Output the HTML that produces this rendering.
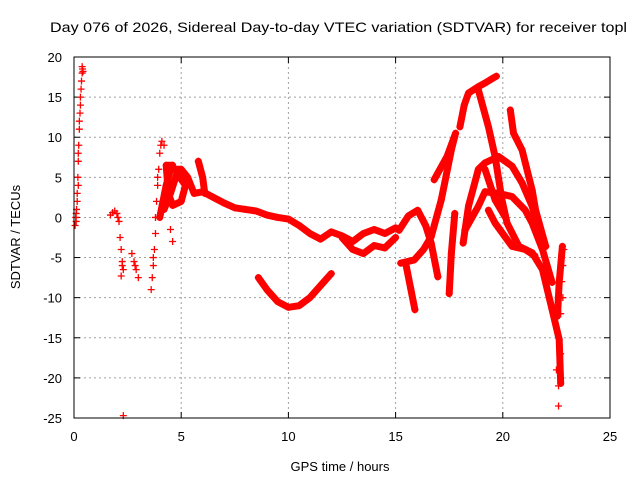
<!DOCTYPE html>
<html><head><meta charset="utf-8"><style>
body{margin:0;background:#fff}
svg text{font-family:"Liberation Sans",sans-serif;font-size:13px;fill:#000}
</style></head><body>
<svg id="chart" width="640" height="480" xmlns="http://www.w3.org/2000/svg">
<rect width="640" height="480" fill="#fff"/>
<text x="50" y="32" textLength="577" lengthAdjust="spacingAndGlyphs" style="font-size:14px">Day 076 of 2026, Sidereal Day-to-day VTEC variation (SDTVAR) for receiver topl</text>
<g id="grid"></g><g id="ticks"></g><g id="data"></g>
<rect x="74" y="57" width="536" height="361" fill="none" stroke="#000" stroke-width="1"/>
<text x="340" y="471" text-anchor="middle">GPS time / hours</text>
<text transform="translate(20,237) rotate(-90)" text-anchor="middle">SDTVAR / TECUs</text>
</svg>
<script>
const xTicks=[0,5,10,15,20,25];
const yTicks=[20,15,10,5,0,-5,-10,-15,-20,-25];
const sparseSpike=[[0.05,-1],[0.08,0],[0.1,0.5],[0.12,1],[0.15,3],[0.18,5],[0.2,7],[0.22,9],[0.25,11],[0.28,13],[0.3,14],[0.33,16],[0.35,17],[0.38,18],[0.4,18.5],[0.1,-0.5],[0.15,2],[0.2,8],[0.25,12],[0.3,15],[0.38,18.8],[0.42,18.2],[0.2,4]];
const sparseDrop=[[1.7,0.3],[1.9,0.8],[2.0,0.5],[2.1,-0.5],[2.15,-2.5],[2.2,-4],[2.25,-5.5],[2.3,-6.5],[2.2,-7.3],[1.8,0.6],[2.05,0],[2.25,-6]];
const sparseLow=[[2.3,-24.7]];
const sparseDip=[[2.7,-4.5],[2.8,-5.5],[2.9,-6.5],[3.0,-7.5],[2.85,-6]];
const sparseRise=[[3.6,-9],[3.65,-7.5],[3.7,-6],[3.75,-4],[3.8,-2],[3.8,0],[3.85,2],[3.9,4],[3.95,6],[4.0,8],[4.1,9.5],[4.2,9],[4.5,-1.5],[4.6,-3],[3.7,-5],[3.9,5],[4.05,9]];
const sparseEnd=[[22.6,-23.5],[22.6,-21],[22.5,-19],[22.7,-17],[22.8,-10],[22.8,-6],[22.85,-4],[22.7,-12],[22.75,-8]];
const bandMain=[[4.0,0],[4.3,4],[4.5,6],[5.0,6],[5.3,5],[5.6,3],[6,3.2],[6.5,2.5],[7,1.8],[7.5,1.2],[8,1],[8.5,0.8],[9,0.3],[9.5,0],[10,-0.2],[10.5,-1],[11,-2],[11.5,-2.7],[12,-1.8],[12.5,-2.3],[13,-3],[13.5,-2],[14,-1.5],[14.5,-2],[15,-1.3]];
const bandLoop=[[4.2,1],[4.5,3],[4.8,5.5],[5.2,4],[5.0,2],[4.6,1.5],[4.4,3],[4.3,6.5],[4.6,6.5]];
const bandSpike=[[5.8,7],[6.0,5],[6.1,3]];
const bandLower=[[12.5,-2.5],[13,-4],[13.5,-4.5],[14,-3.5],[14.5,-3.8],[15,-2.5]];
const bandV=[[8.6,-7.5],[9,-9],[9.5,-10.5],[10,-11.2],[10.5,-11],[11,-10],[11.5,-8.5],[12,-7]];
const bandLoopA=[[15.16,-1.6],[15.6,0.2],[16.03,0.9],[16.4,-1],[16.66,-3.2],[16.97,-7.4]];
const bandLoopB=[[15.24,-5.7],[15.87,-5.3],[16.3,-4],[16.66,-2.4],[17.13,2.2],[17.6,8.4],[17.76,10.1]];
const bandDrop=[[15.5,-6.1],[15.7,-8.8],[15.9,-11.5]];
const bandUp=[[16.8,4.7],[17.4,7.6],[17.8,10.5]];
const bandDown=[[17.76,0.5],[17.6,-4.5],[17.5,-9.5]];
const bandPeak=[[18.0,11.3],[18.2,14],[18.4,15.5],[18.86,16.3],[19.2,16.8],[19.5,17.3],[19.7,17.6]];
const bandFall=[[18.86,15.9],[19.33,11.3],[19.64,7.6],[19.96,2.2],[20.2,-0.7],[20.75,-3.6],[21.37,-4.4],[21.85,-6.5],[22.3,-11.5],[22.63,-15.2],[22.7,-20.7]];
const bandArcA=[[18.15,-3.2],[18.4,1.4],[18.86,6],[19.17,6.8],[19.8,7.6],[20.43,6.4],[20.9,4.3],[21.37,1.4],[21.69,-1.5],[22.0,-3.6]];
const bandArcB=[[18.23,-1.6],[18.86,1.4],[19.17,3.2],[19.8,3],[20.43,2.6],[21.05,0.9],[21.37,-0.7],[21.85,-4],[22.3,-8.1]];
const bandArcC=[[19.33,0.9],[19.64,-0.7],[20.43,-3.6],[21.05,-4],[21.5,-4.8]];
const bandArcD=[[19.17,6],[19.64,2.2],[20.1,0.1]];
const bandRight=[[20.35,13.4],[20.5,10.5],[20.9,8.4],[21.37,3.4],[21.53,0.9],[22.0,-3.6]];
const bandEnd=[[22.78,-3.6],[22.63,-8.1],[22.55,-12.3]];
const sparseSeries=[sparseSpike,sparseDrop,sparseLow,sparseDip,sparseRise,sparseEnd];
const denseSeries=[bandMain,bandLoop,bandSpike,bandLower,bandV,bandLoopA,bandLoopB,bandDrop,bandUp,bandDown,bandPeak,bandFall,bandArcA,bandArcB,bandArcC,bandArcD,bandRight,bandEnd];

const NS='http://www.w3.org/2000/svg';
const X0=74,X1=610,Y0=418,Y1=57;
function xs(h){return X0+(h-0)/(25-0)*(X1-X0);}
function ys(v){return Y0-(v+25)/(20+25)*(Y0-Y1);}
function mk(tag,attrs,parent){const e=document.createElementNS(NS,tag);for(const k in attrs)e.setAttribute(k,attrs[k]);parent.appendChild(e);return e;}
const grid=document.getElementById('grid'),ticks=document.getElementById('ticks'),data=document.getElementById('data');
xTicks.forEach(t=>{const x=xs(t);
 if(t>0&&t<25){const g=mk('line',{x1:x,x2:x,y1:Y1,y2:Y0,stroke:'#a0a0a0','stroke-dasharray':'2,3'},grid);
 
 }
 mk('line',{x1:x,x2:x,y1:Y0,y2:Y0-6,stroke:'#000'},ticks);mk('line',{x1:x,x2:x,y1:Y1,y2:Y1+6,stroke:'#000'},ticks);
 const l=mk('text',{x:x,y:Y0+23,'text-anchor':'middle'},ticks);l.textContent=t;
 
 
});
yTicks.forEach(t=>{const y=ys(t);
 if(t>-25&&t<20){const g=mk('line',{x1:X0,x2:X1,y1:y,y2:y,stroke:'#a0a0a0','stroke-dasharray':'2,3'},grid);
 
 }
 mk('line',{x1:X0,x2:X0+6,y1:y,y2:y,stroke:'#000'},ticks);mk('line',{x1:X1,x2:X1-6,y1:y,y2:y,stroke:'#000'},ticks);
 const l=mk('text',{x:X0-12,y:y+5,'text-anchor':'end'},ticks);l.textContent=t;
 
 
});
function plus(p,parent){const x=xs(p[0]),y=ys(p[1]);
 const e=mk('path',{d:`M${x-3.5},${y}h7M${x},${y-3.5}v7`,stroke:'#f00','stroke-width':1.3,fill:'none'},parent);
 
 
}
denseSeries.forEach(s=>{
 const pl=mk('polyline',{points:s.map(p=>xs(p[0])+','+ys(p[1])).join(' '),fill:'none',stroke:'#f00','stroke-width':7,'stroke-linejoin':'round','stroke-linecap':'round'},data);
 
 
 s.forEach(p=>plus(p,data));
});
sparseSeries.forEach(s=>s.forEach(p=>plus(p,data)));
</script>
</body></html>
